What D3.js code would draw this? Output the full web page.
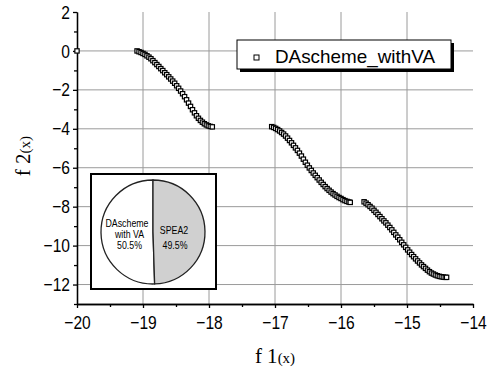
<!DOCTYPE html>
<html>
<head>
<meta charset="utf-8">
<script src="https://cdnjs.cloudflare.com/ajax/libs/d3/7.8.5/d3.min.js"></script>
<style>
  body { margin: 0; background: #fff; }
  svg { display: block; }
</style>
</head>
<body>
<div id="chart"></div>
<script>
// ---- data ----
var isolatedPoint = [[-20, 0]];

var front1 = [
  [-19.09, 0.00], [-19.06, -0.04], [-19.03, -0.08], [-19.00, -0.13], [-18.97, -0.18],
  [-18.94, -0.25], [-18.91, -0.32], [-18.88, -0.40], [-18.85, -0.50], [-18.82, -0.60],
  [-18.79, -0.70], [-18.76, -0.80], [-18.73, -0.91], [-18.70, -1.01], [-18.67, -1.12],
  [-18.64, -1.22], [-18.61, -1.33], [-18.58, -1.44], [-18.55, -1.55], [-18.52, -1.66],
  [-18.49, -1.79], [-18.46, -1.92], [-18.43, -2.06], [-18.40, -2.20], [-18.37, -2.35],
  [-18.34, -2.51], [-18.31, -2.68], [-18.28, -2.85], [-18.25, -3.02], [-18.22, -3.18],
  [-18.19, -3.33], [-18.16, -3.46], [-18.13, -3.57], [-18.10, -3.66], [-18.07, -3.74],
  [-18.04, -3.80], [-18.01, -3.85], [-17.98, -3.88], [-17.95, -3.90]
];

var front2 = [
  [-17.05, -3.89], [-17.02, -3.93], [-16.99, -3.98], [-16.96, -4.04], [-16.93, -4.11],
  [-16.90, -4.19], [-16.87, -4.27], [-16.84, -4.37], [-16.81, -4.48], [-16.78, -4.60],
  [-16.75, -4.72], [-16.72, -4.85], [-16.69, -4.98], [-16.66, -5.11], [-16.63, -5.25],
  [-16.60, -5.40], [-16.57, -5.56], [-16.54, -5.72], [-16.51, -5.87], [-16.48, -6.01],
  [-16.45, -6.14], [-16.42, -6.27], [-16.39, -6.39], [-16.36, -6.51], [-16.33, -6.63],
  [-16.30, -6.75], [-16.27, -6.86], [-16.24, -6.97], [-16.21, -7.07], [-16.18, -7.16],
  [-16.15, -7.25], [-16.12, -7.33], [-16.09, -7.40], [-16.06, -7.47], [-16.03, -7.53],
  [-16.00, -7.58], [-15.97, -7.64], [-15.94, -7.69], [-15.91, -7.73], [-15.88, -7.76],
  [-15.86, -7.78]
];

var front3 = [
  [-15.65, -7.75], [-15.62, -7.82], [-15.59, -7.90], [-15.56, -7.99], [-15.53, -8.08],
  [-15.50, -8.19], [-15.47, -8.29], [-15.44, -8.40], [-15.41, -8.51], [-15.38, -8.62],
  [-15.35, -8.73], [-15.32, -8.83], [-15.29, -8.95], [-15.26, -9.07], [-15.23, -9.19],
  [-15.20, -9.32], [-15.17, -9.45], [-15.14, -9.57], [-15.11, -9.70], [-15.08, -9.83],
  [-15.05, -9.96], [-15.02, -10.09], [-14.99, -10.22], [-14.96, -10.34], [-14.93, -10.46],
  [-14.90, -10.57], [-14.87, -10.68], [-14.84, -10.79], [-14.81, -10.89], [-14.78, -10.99],
  [-14.75, -11.08], [-14.72, -11.17], [-14.69, -11.26], [-14.66, -11.34], [-14.63, -11.41],
  [-14.60, -11.46], [-14.57, -11.51], [-14.54, -11.55], [-14.51, -11.58], [-14.48, -11.60],
  [-14.45, -11.62], [-14.42, -11.63], [-14.40, -11.63]
];

var seriesName = "DAscheme_withVA";

var xTicks = [-20, -19, -18, -17, -16, -15, -14];
var xMinorTicks = [-19.5, -18.5, -17.5, -16.5, -15.5, -14.5];
var yTicks = [2, 0, -2, -4, -6, -8, -10, -12];
var yMinorTicks = [1, -1, -3, -5, -7, -9, -11, -13];

var pieNames = ["DAscheme with VA", "SPEA2"];
var pieValues = [50.5, 49.5];
var pieColors = ["#ffffff", "#d0d0d0"];

// ---- layout ----
var W = 497, H = 368;
var sansFont = "'Liberation Sans', Arial, sans-serif";

var svg = d3.select("#chart").append("svg")
    .attr("width", W)
    .attr("height", H);

var x = d3.scaleLinear().domain([-20, -14]).range([77, 473]);
var y = d3.scaleLinear().domain([-13, 2]).range([304, 12]);

// squeeze a text horizontally to look like the narrow original font
function narrow(sel, k) {
  sel.each(function () {
    var w = this.getComputedTextLength();
    d3.select(this)
        .attr("textLength", w * k)
        .attr("lengthAdjust", "spacingAndGlyphs");
  });
}

// grid lines
svg.append("g").selectAll("line.gx")
    .data(xTicks.filter(function (d) { return d > -20 && d < -14; }))
    .enter().append("line")
    .attr("x1", function (d) { return x(d); })
    .attr("x2", function (d) { return x(d); })
    .attr("y1", y(2))
    .attr("y2", y(-13))
    .style("stroke", "#9a9a9a")
    .style("stroke-width", 1);

svg.append("g").selectAll("line.gy")
    .data(yTicks.filter(function (d) { return d < 2; }))
    .enter().append("line")
    .attr("x1", x(-20))
    .attr("x2", x(-14))
    .attr("y1", function (d) { return y(d); })
    .attr("y2", function (d) { return y(d); })
    .style("stroke", "#9a9a9a")
    .style("stroke-width", 1);

// minor ticks
var xMinorAxis = svg.append("g")
    .attr("transform", "translate(0," + y(-13) + ")")
    .call(d3.axisBottom(x).tickValues(xMinorTicks).tickSize(3).tickSizeOuter(0).tickFormat(""));
var yMinorAxis = svg.append("g")
    .attr("transform", "translate(" + x(-20) + ",0)")
    .call(d3.axisLeft(y).tickValues(yMinorTicks).tickSize(3).tickSizeOuter(0).tickFormat(""));

// major axes
var fmt = d3.format("d");
var xAxis = svg.append("g")
    .attr("transform", "translate(0," + y(-13) + ")")
    .call(d3.axisBottom(x).tickValues(xTicks).tickFormat(fmt).tickSize(4).tickSizeOuter(0).tickPadding(8));
var yAxis = svg.append("g")
    .attr("transform", "translate(" + x(-20) + ",0)")
    .call(d3.axisLeft(y).tickValues(yTicks).tickFormat(fmt).tickSize(4).tickSizeOuter(0).tickPadding(3));

[xMinorAxis, yMinorAxis, xAxis, yAxis].forEach(function (a) {
  a.selectAll("path,line").style("stroke", "#000").style("stroke-width", 1.3);
  a.selectAll("text")
      .style("font-family", sansFont)
      .style("font-size", "19px")
      .style("fill", "#000");
});
narrow(xAxis.selectAll("text"), 0.82);
narrow(yAxis.selectAll("text"), 0.82);

// axis titles
var xTitle = svg.append("text")
    .attr("x", 275)
    .attr("y", 363)
    .attr("text-anchor", "middle")
    .style("font-family", "'Liberation Serif', 'DejaVu Serif', serif")
    .style("font-size", "21px");
xTitle.append("tspan").text("f 1");
xTitle.append("tspan").style("font-size", "15px").text("(x)");

var yTitle = svg.append("text")
    .attr("transform", "translate(30,156) rotate(-90)")
    .attr("text-anchor", "middle")
    .style("font-family", "'Liberation Serif', 'DejaVu Serif', serif")
    .style("font-size", "21px");
yTitle.append("tspan").text("f 2");
yTitle.append("tspan").style("font-size", "15px").text("(x)");

// data markers
var allPoints = isolatedPoint.concat(front1, front2, front3);
var ms = 4.3;
svg.append("g").selectAll("rect.pt")
    .data(allPoints)
    .enter().append("rect")
    .attr("x", function (d) { return x(d[0]) - ms / 2; })
    .attr("y", function (d) { return y(d[1]) - ms / 2; })
    .attr("width", ms)
    .attr("height", ms)
    .style("fill", "#fff")
    .style("stroke", "#000")
    .style("stroke-width", 1.2);

// legend with drop shadow
var lg = svg.append("g");
lg.append("rect")
    .attr("x", 240).attr("y", 43)
    .attr("width", 214).attr("height", 29)
    .style("fill", "#000");
lg.append("rect")
    .attr("x", 237).attr("y", 40)
    .attr("width", 214).attr("height", 29)
    .style("fill", "#fff")
    .style("stroke", "#000")
    .style("stroke-width", 1);
lg.append("rect")
    .attr("x", 254).attr("y", 55)
    .attr("width", 5).attr("height", 5)
    .style("fill", "#fff")
    .style("stroke", "#000")
    .style("stroke-width", 1);
lg.append("text")
    .attr("x", 275).attr("y", 63)
    .attr("textLength", 160)
    .attr("lengthAdjust", "spacingAndGlyphs")
    .style("font-family", sansFont)
    .style("font-size", "19px")
    .text(seriesName);

// inset pie
var inset = svg.append("g");
inset.append("rect")
    .attr("x", 91).attr("y", 174)
    .attr("width", 125).attr("height", 115)
    .style("fill", "#fff")
    .style("stroke", "#000")
    .style("stroke-width", 2);

var pieTotal = d3.sum(pieValues);
var pie = d3.pie().sort(null)
    .startAngle(-2 * Math.PI * pieValues[0] / pieTotal)
    .endAngle(2 * Math.PI * pieValues[1] / pieTotal);
var arc = d3.arc().innerRadius(0).outerRadius(52);
var pg = inset.append("g").attr("transform", "translate(153,232)");
pg.selectAll("path")
    .data(pie(pieValues))
    .enter().append("path")
    .attr("d", arc)
    .style("fill", function (d, i) { return pieColors[i]; })
    .style("stroke", "#222")
    .style("stroke-width", 1.3);

var nameParts = pieNames[0].split(" ");
var leftLabel = [nameParts[0], nameParts.slice(1).join(" "), pieValues[0].toFixed(1) + "%"];
var pieText = inset.selectAll("text.l")
    .data(leftLabel)
    .enter().append("text")
    .attr("x", function (d, i) { return i === 0 ? 127 : 129.5; })
    .attr("y", function (d, i) { return [227, 238, 249][i]; })
    .attr("text-anchor", "middle")
    .style("font-family", sansFont)
    .style("font-size", "11px")
    .text(function (d) { return d; });
var spea = inset.append("text")
    .attr("x", 174).attr("y", 234)
    .attr("text-anchor", "middle")
    .style("font-family", sansFont)
    .style("font-size", "11px")
    .text(pieNames[1]);
var speaPct = inset.append("text")
    .attr("x", 175).attr("y", 249)
    .attr("text-anchor", "middle")
    .style("font-family", sansFont)
    .style("font-size", "11px")
    .text(pieValues[1].toFixed(1) + "%");
narrow(pieText, 0.8);
narrow(spea, 0.8);
narrow(speaPct, 0.8);
</script>
</body>
</html>
